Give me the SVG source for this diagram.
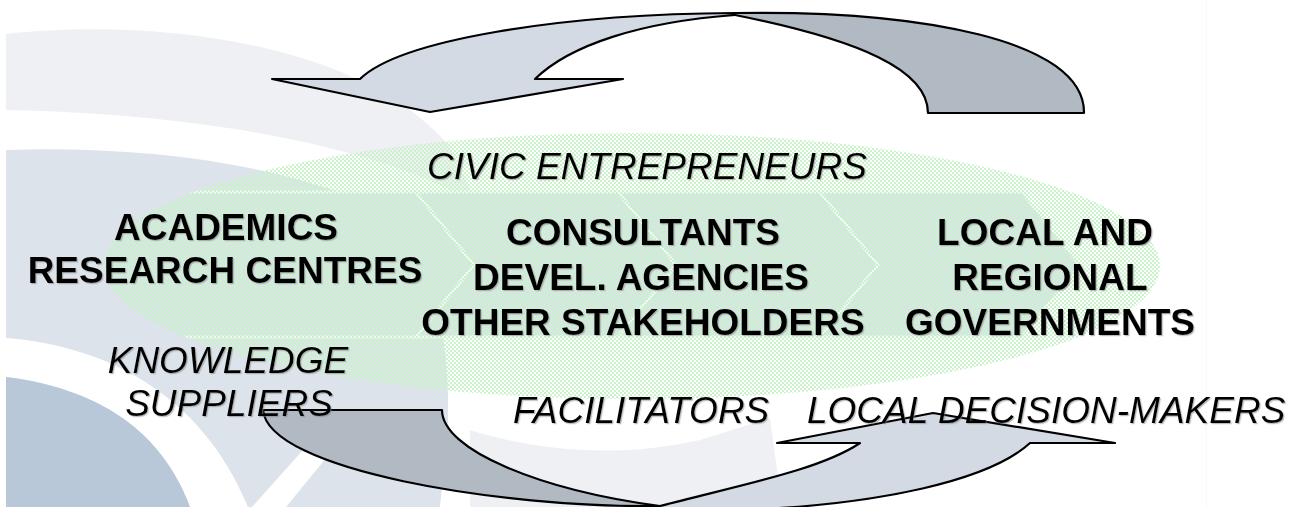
<svg xmlns="http://www.w3.org/2000/svg" width="1292" height="507" viewBox="0 0 1292 507">
  <defs>
    <!-- fine two-pixel checker used for the translucent green oval -->
    <pattern id="dots" width="4" height="4" patternUnits="userSpaceOnUse">
      <rect x="0" y="0" width="2" height="2" fill="#cbf3cb"/>
      <rect x="2" y="2" width="2" height="2" fill="#cbf3cb"/>
    </pattern>
    <clipPath id="oval">
      <ellipse cx="632" cy="266" rx="528" ry="133"/>
    </clipPath>
    <clipPath id="page">
      <rect x="6" y="0" width="1201" height="507"/>
    </clipPath>
    <filter id="shadow" x="-5%" y="-20%" width="110%" height="150%">
      <feDropShadow dx="1.2" dy="1.2" stdDeviation="0.6" flood-color="#7a7a7a" flood-opacity="0.5"/>
    </filter>
  </defs>
  <style>
    .pale { fill: #eef0f4; }
    .mid { fill: #dde3ea; }
    .deep { fill: #b8c8d9; }
    .gap { fill: #ffffff; }
    .step { fill: #d9e2e8; stroke: #f4fbf6; stroke-width: 3; }
    .back { fill: #b1b9c2; stroke: #000; stroke-width: 2.2; stroke-linejoin: round; }
    .front { fill: #d3dae4; stroke: #000; stroke-width: 2.2; stroke-linejoin: round; }
    .role { font-family: "Liberation Sans", Arial, sans-serif; font-size: 37px; font-weight: bold; fill: #000; text-anchor: middle; filter: url(#shadow); }
    .tag { font-family: "Liberation Sans", Arial, sans-serif; font-size: 37px; font-style: italic; fill: #000; filter: url(#shadow); }
  </style>

  <rect width="1292" height="507" fill="#ffffff"/>

  <!-- faded logo bands behind the slide -->
  <g id="backdrop" clip-path="url(#page)">
    <path class="pale" d="M6,34 C150,18 360,40 450,147 L480,210 L470,200 C400,160 250,115 6,110 Z"/>
    <path class="mid" d="M6,150 C130,146 260,160 360,200 C420,240 450,300 448,420 L440,507 L6,507 Z"/>
    <path class="gap" d="M6,338 C100,345 200,390 248,507 L190,507 C165,440 110,390 6,377 Z"/>
    <path class="deep" d="M6,377 C110,390 165,440 190,507 L6,507 Z"/>
    <path class="gap" d="M252,507 L312,440 L336,446 L286,507 Z"/>
    <path class="pale" d="M470,430 C540,452 620,458 700,440 L770,418 L782,507 L470,507 Z"/>
    <line x1="1207" y1="0" x2="1207" y2="507" stroke="#f1f1f1" stroke-width="1"/>
  </g>

  <!-- chevron process band and green oval -->
  <g id="oval-band">
    <g clip-path="url(#oval)">
      <path class="step" d="M12,192 L416,192 L474,265 L416,337 L12,337 L70,265 Z"/>
      <path class="step" d="M416,192 L618,192 L676,265 L618,337 L416,337 L474,265 Z"/>
      <path class="step" d="M618,192 L820,192 L878,265 L820,337 L618,337 L676,265 Z"/>
      <path class="step" d="M820,192 L1022,192 L1080,265 L1022,337 L820,337 L878,265 Z"/>
    </g>
    <ellipse cx="632" cy="266" rx="528" ry="133" fill="url(#dots)"/>
  </g>

  <!-- curved feedback arrows -->
  <g id="connectors">
    <path class="back" d="M735,13 C920,10 1085,40 1084,113 L928,113 C928,70 860,40 735,15 Z"/>
    <path class="front" d="M272,79 L360,79 C400,40 560,14 735,13 L735,15 C640,22 570,45 535,79 L623,79 L430,112 Z"/>
    <path class="back" d="M263,410 L442,410 C442,450 540,490 660,506 C500,508 268,470 263,410 Z"/>
    <path class="front" d="M660,506 C740,485 820,470 860,443 L777,443 L933,413 L1115,443 L1030,443 C990,480 880,505 740,510 L640,514 Z"/>
  </g>

  <!-- actors -->
  <g id="academics">
    <text class="role" x="226" y="240">ACADEMICS</text>
    <text class="role" x="225" y="283">RESEARCH CENTRES</text>
  </g>
  <g id="intermediaries">
    <text class="role" x="643" y="245">CONSULTANTS</text>
    <text class="role" x="641" y="290">DEVEL. AGENCIES</text>
    <text class="role" x="643" y="335">OTHER STAKEHOLDERS</text>
  </g>
  <g id="governments">
    <text class="role" x="1045" y="245">LOCAL AND</text>
    <text class="role" x="1050" y="290">REGIONAL</text>
    <text class="role" x="1050" y="335">GOVERNMENTS</text>
  </g>

  <!-- role labels -->
  <g id="civic">
    <text class="tag" x="647" y="179" text-anchor="middle">CIVIC ENTREPRENEURS</text>
  </g>
  <g id="knowledge">
    <text class="tag" x="228" y="373" text-anchor="middle">KNOWLEDGE</text>
    <text class="tag" x="229" y="416" text-anchor="middle">SUPPLIERS</text>
  </g>
  <g id="facilitators">
    <text class="tag" x="513" y="423">FACILITATORS</text>
  </g>
  <g id="decision-makers">
    <text class="tag" x="807" y="423">LOCAL DECISION-MAKERS</text>
  </g>
</svg>
